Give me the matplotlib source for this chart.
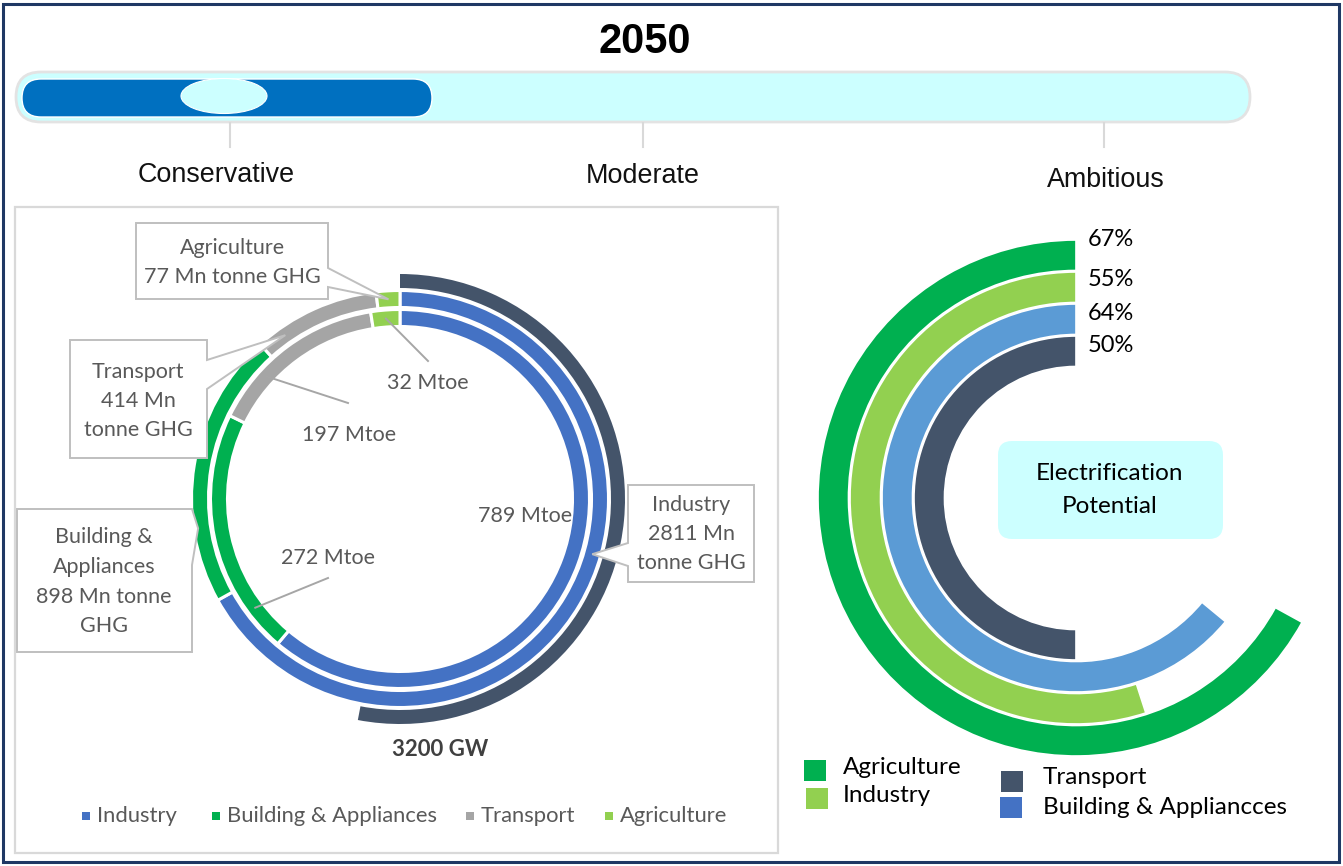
import matplotlib
matplotlib.use("Agg")
import matplotlib.pyplot as plt
from matplotlib.patches import FancyBboxPatch, Ellipse, Rectangle, Polygon
import numpy as np

# ---- data -------------------------------------------------------------
year = "2050"
scenarios = ["Conservative", "Moderate", "Ambitious"]

sectors = ["Industry", "Building & Appliances", "Transport", "Agriculture"]
ghg_mn_tonne = [2811, 898, 414, 77]
energy_mtoe = [789, 272, 197, 32]
capacity_gw = 3200
capacity_share = 0.53

elec_sectors = ["Agriculture", "Industry", "Building & Appliancces", "Transport"]
elec_pct = [67, 55, 64, 50]

# ---- styling ------------------------------------------------------------
sector_colors = ["#4472C4", "#00B050", "#A5A5A5", "#92D050"]
elec_colors = ["#00B050", "#92D050", "#5B9BD5", "#44546A"]
elec_legend_colors = {"Agriculture": "#00B050", "Industry": "#92D050",
                      "Transport": "#44546A", "Building & Appliancces": "#4472C4"}
DARK = "#44546A"
GREY_TXT = "#595959"
BOX_EDGE = "#BFBFBF"
ARIAL = "Liberation Sans"
BODY = "Lato"

W, H = 1343, 866
fig = plt.figure(figsize=(W / 100, H / 100), dpi=100)
ax = fig.add_axes([0, 0, 1, 1])


def Y(py):
    """Convert a top-down pixel row to the axes' bottom-up coordinate."""
    return H - py


# ---- outer frame --------------------------------------------------------
ax.add_patch(Rectangle((3, 4), W - 7, H - 8, fill=False, edgecolor="#1F3864",
                       linewidth=2.2, zorder=0))

# ---- title and scenario slider -----------------------------------------
ax.text(645, Y(42), year, fontsize=30, fontweight="bold", family=ARIAL,
        ha="center", va="center", color="black")

ax.add_patch(FancyBboxPatch((16, Y(122)), 1234, 50,
                            boxstyle="round,pad=0,rounding_size=25",
                            facecolor="#CCFFFF", edgecolor="#E3E3E3", linewidth=2))
ax.add_patch(FancyBboxPatch((22, Y(117)), 410, 38,
                            boxstyle="round,pad=0,rounding_size=19",
                            facecolor="#0070C0", edgecolor="white", linewidth=1))
ax.add_patch(Ellipse((224, Y(96)), 86, 35, facecolor="#CCFFFF",
                     edgecolor="white", linewidth=0.8))

tick_x = [230, 643, 1104]
label_pos = [(216, 175), (643, 176), (1106, 180)]
for x, (lx, ly), name in zip(tick_x, label_pos, scenarios):
    ax.plot([x, x], [Y(123), Y(147)], color="#D9D9D9", linewidth=1.5)
    ax.text(lx, Y(ly), name, fontsize=19.4, family=ARIAL, ha="center",
            va="center", color="#111111")

# ---- left panel: nested donuts -----------------------------------------
ax.add_patch(Rectangle((15, Y(853)), 763, 646, fill=False,
                       edgecolor="#D9D9D9", linewidth=1.6))

cx, cy = 400, Y(499)
common = dict(center=(cx, cy), startangle=90, counterclock=False)

ax.pie([capacity_share], normalize=False, radius=225, colors=[DARK],
       wedgeprops=dict(width=14, linewidth=0), **common)
ax.pie(ghg_mn_tonne, radius=208.5, colors=sector_colors,
       wedgeprops=dict(width=17, edgecolor="white", linewidth=2.2), **common)
ax.pie(energy_mtoe, radius=189.5, colors=sector_colors,
       wedgeprops=dict(width=17, edgecolor="white", linewidth=2.2), **common)


def slice_point(values, idx, frac, r):
    """Point at fraction `frac` through slice `idx`, clockwise from 12 o'clock."""
    total = float(sum(values))
    start = sum(values[:idx]) / total * 360.0
    ang = np.deg2rad(start + frac * values[idx] / total * 360.0)
    return cx + r * np.sin(ang), cy + r * np.cos(ang)


def callout(box, side, base, tip, lines, line_ys, text_x):
    x0, y0, x1, y1 = box
    a, b = base
    if side == "right":
        pts = [(x0, y0), (x1, y0), (x1, a), None, (x1, b), (x1, y1), (x0, y1)]
    else:
        pts = [(x0, y0), (x1, y0), (x1, y1), (x0, y1), (x0, b), None, (x0, a)]
    pts = [tip if p is None else (p[0], Y(p[1])) for p in pts]
    ax.add_patch(Polygon(pts, closed=True, facecolor="white", edgecolor=BOX_EDGE,
                         linewidth=1.4, joinstyle="miter", zorder=3))
    for ln, ly in zip(lines, line_ys):
        ax.text(text_x, Y(ly), ln, fontsize=15.5, family=BODY, color=GREY_TXT,
                ha="center", va="center", zorder=4)


r_outer_mid = 200
r_inner_mid = 181

# Industry
callout((628, 485, 754, 582), "left", (543, 566),
        slice_point(ghg_mn_tonne, 0, 0.44, r_outer_mid),
        ["Industry", f"{ghg_mn_tonne[0]} Mn", "tonne GHG"], [505, 534, 563], 691)
# Building & Appliances
callout((17, 509, 192, 652), "right", (509, 565),
        slice_point(ghg_mn_tonne, 1, 0.27, r_outer_mid + 4),
        ["Building &", "Appliances", f"{ghg_mn_tonne[1]} Mn tonne", "GHG"],
        [537, 567, 597, 626], 104)
# Transport
callout((70, 340, 207, 458), "right", (360, 389),
        slice_point(ghg_mn_tonne, 2, 0.2, r_outer_mid),
        ["Transport", f"{ghg_mn_tonne[2]} Mn", "tonne GHG"], [372, 401, 430], 138)
# Agriculture
callout((136, 223, 328, 299), "right", (268, 287),
        slice_point(ghg_mn_tonne, 3, 0.5, r_outer_mid),
        ["Agriculture", f"{ghg_mn_tonne[3]} Mn tonne GHG"], [248, 277], 232)

# energy labels with leader lines
leader = [(None, None, (525, 516)),
          (0.17, (328, 578), (328, 558)),
          (0.3, (348, 403), (349, 435)),
          (0.5, (428, 361), (428, 383))]
for i, (frac, end, lab) in enumerate(leader):
    if frac is not None:
        tx, ty = slice_point(energy_mtoe, i, frac, r_inner_mid)
        ax.plot([tx, end[0]], [ty, Y(end[1])], color="#A6A6A6", linewidth=1.4,
                zorder=2)
    ax.text(lab[0], Y(lab[1]), f"{energy_mtoe[i]} Mtoe", fontsize=15.5,
            family=BODY, color=GREY_TXT, ha="center", va="center", zorder=4)

ax.text(440, Y(750), f"{capacity_gw} GW", fontsize=16, fontweight="bold",
        family=BODY, color="#404040", ha="center", va="center")

# bottom legend of the left panel
leg_x = [82, 212, 466, 605]
for x, name, col in zip(leg_x, sectors, sector_colors):
    ax.add_patch(Rectangle((x, Y(820)), 8, 8, facecolor=col, edgecolor="none"))
    ax.text(x + 15, Y(816), name, fontsize=15.8, family=BODY, color=GREY_TXT,
            ha="left", va="center")

# ---- right panel: electrification radial bars --------------------------
rcx, rcy = 1076, Y(498)
radii = [258, 226, 194, 162]
label_drop = [0, 7, 9, 9]
for pct, r, col, dy in zip(elec_pct, radii, elec_colors, label_drop):
    ax.pie([pct / 100.0], normalize=False, radius=r, center=(rcx, rcy),
           startangle=90, counterclock=True, colors=[col],
           wedgeprops=dict(width=30.5, edgecolor="white", linewidth=1.2))
    ax.text(1088, rcy + r - dy, f"{pct}%", fontsize=17, family=BODY,
            color="black", ha="left", va="center")

ax.add_patch(FancyBboxPatch((998, Y(539)), 225, 98,
                            boxstyle="round,pad=0,rounding_size=14",
                            facecolor="#CCFFFF", edgecolor="none"))
ax.text(1110, Y(490), "Electrification\nPotential", fontsize=17.5, family=BODY,
        color="black", ha="center", va="center", linespacing=1.75)

legend_pos = {"Agriculture": (804, 760, 843, 768),
              "Industry": (806, 788, 843, 795),
              "Transport": (1001, 771, 1043, 778),
              "Building & Appliancces": (1000, 797, 1043, 807)}
for name in ["Agriculture", "Industry", "Transport", "Building & Appliancces"]:
    sx, sy, tx, ty = legend_pos[name]
    ax.add_patch(Rectangle((sx, Y(sy + 21)), 22, 21,
                           facecolor=elec_legend_colors[name], edgecolor="none"))
    ax.text(tx, Y(ty), name, fontsize=17.5, family=BODY, color="black",
            ha="left", va="center")

# ---- finish ------------------------------------------------------------
ax.set_xlim(0, W)
ax.set_ylim(0, H)
ax.set_aspect("auto")
ax.axis("off")
fig.savefig("out.png", dpi=100, facecolor="white")
